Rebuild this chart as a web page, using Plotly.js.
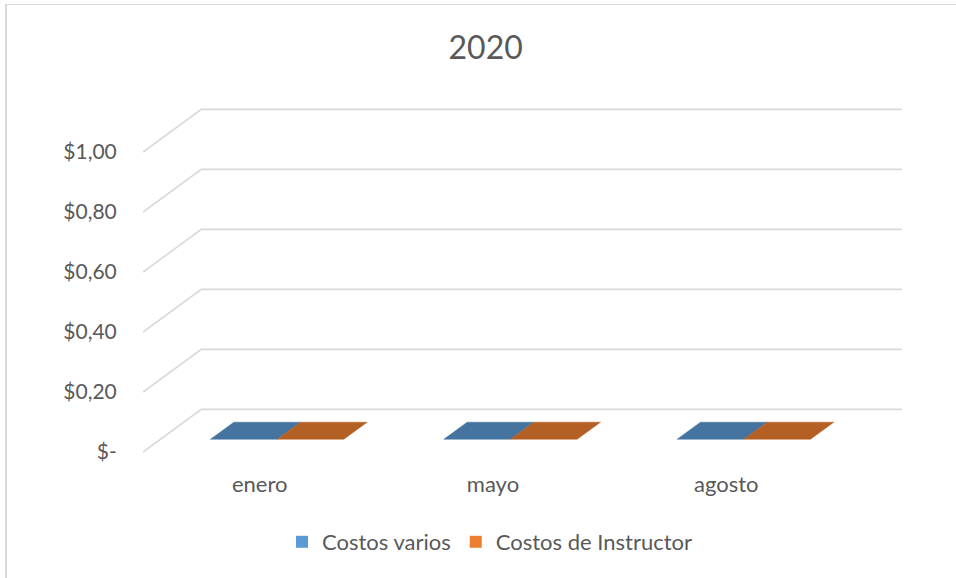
<!DOCTYPE html>
<html>
<head>
<meta charset="utf-8">
<script src="https://cdn.plot.ly/plotly-3.0.1.min.js"></script>
<style>
  html, body { margin: 0; padding: 0; background: #fff; }
  #wrap { position: relative; width: 956px; height: 578px; overflow: hidden; }
  #chart { position: absolute; left: 0; top: 0; width: 956px; height: 578px; }
  #frame { position: absolute; left: 5px; top: 4px; width: 960px; height: 590px;
           border-left: 2px solid #d9d9d9; border-top: 1px solid #d9d9d9; pointer-events: none; }
</style>
</head>
<body>
<div id="wrap">
  <div id="chart"></div>
  <div id="frame"></div>
</div>
<script>
// ---- data ----
const chartTitle = '2020';
const categories = ['enero', 'mayo', 'agosto'];
const seriesNames = ['Costos varios', 'Costos de Instructor'];
const costosVarios = [0, 0, 0];
const costosInstructor = [0, 0, 0];
const tickValues = [0, 0.2, 0.4, 0.6, 0.8, 1.0];
const tickLabels = ['$-', '$0,20', '$0,40', '$0,60', '$0,80', '$1,00'];

// ---- styling / pseudo-3D geometry ----
const DEPTH_X = 0.25;      // depth shift along x (category units)
const DEPTH_Y = 0.142;     // depth shift along y (value units)
const BAR_W = 1 / 3.5;     // gap width 150%
const DEPTH_FROM = 0.3, DEPTH_TO = 0.7;
const X_MAX = 2.753;
const legendColors = ['#5B9BD5', '#ED7D31'];
const topColors = ['#44749F', '#B45F23'];
const gridColor = '#d9d9d9';
const textColor = '#595959';
const FONT = 'Lato, "Open Sans", sans-serif';

const idx = categories.map((c, i) => i);

// gridlines: left side wall diagonal + back wall horizontal
const gx = [], gy = [];
tickValues.forEach(v => {
  gx.push(-0.5, -0.5 + DEPTH_X, X_MAX, null);
  gy.push(v, v + DEPTH_Y, v + DEPTH_Y, null);
});

const traces = [{
  type: 'scatter', mode: 'lines', x: gx, y: gy,
  line: { color: gridColor, width: 1.6 },
  hoverinfo: 'skip', showlegend: false
}];

const seriesValues = [costosVarios, costosInstructor];
const offsets = [-BAR_W, 0];

// real bar traces (values are zero, so no column height)
seriesValues.forEach((vals, s) => {
  traces.push({
    type: 'bar', name: seriesNames[s], x: idx, y: vals,
    width: BAR_W, offset: offsets[s],
    marker: { color: legendColors[s], line: { width: 0 } }
  });
});

// top faces of the 3D columns, placed at each value
seriesValues.forEach((vals, s) => {
  const px = [], py = [];
  vals.forEach((v, i) => {
    const xl = i + offsets[s], xr = xl + BAR_W;
    px.push(xl + DEPTH_FROM * DEPTH_X, xr + DEPTH_FROM * DEPTH_X,
            xr + DEPTH_TO * DEPTH_X, xl + DEPTH_TO * DEPTH_X, xl + DEPTH_FROM * DEPTH_X, null);
    py.push(v + DEPTH_FROM * DEPTH_Y, v + DEPTH_FROM * DEPTH_Y,
            v + DEPTH_TO * DEPTH_Y, v + DEPTH_TO * DEPTH_Y, v + DEPTH_FROM * DEPTH_Y, null);
  });
  traces.push({
    type: 'scatter', mode: 'lines', x: px, y: py, fill: 'toself',
    fillcolor: topColors[s], line: { color: topColors[s], width: 0.5 },
    hoverinfo: 'skip', showlegend: false
  });
});

const layout = {
  width: 956, height: 578,
  paper_bgcolor: '#ffffff', plot_bgcolor: 'rgba(0,0,0,0)',
  margin: { l: 143, r: 54, t: 100, b: 118, pad: 0 },
  font: { family: FONT, color: textColor, size: 22 },
  title: {
    text: chartTitle, font: { family: FONT, size: 32, color: textColor },
    xref: 'container', x: 0.508, xanchor: 'center',
    yref: 'container', y: 1 - 48 / 578, yanchor: 'middle'
  },
  barmode: 'overlay',
  xaxis: {
    range: [-0.5, X_MAX], tickmode: 'array', tickvals: idx, ticktext: categories,
    showgrid: false, zeroline: false, showline: false,
    ticks: 'outside', ticklen: 5, tickcolor: 'rgba(0,0,0,0)',
    tickfont: { family: FONT, size: 22, color: textColor }, fixedrange: true
  },
  yaxis: {
    range: [-8 / 300, 352 / 300], tickmode: 'array', tickvals: tickValues, ticktext: tickLabels,
    showgrid: false, zeroline: false, showline: false,
    ticks: 'outside', ticklen: 21, tickcolor: 'rgba(0,0,0,0)',
    tickfont: { family: FONT, size: 21, color: textColor }, fixedrange: true
  },
  showlegend: true,
  legend: {
    orientation: 'h', xref: 'container', yref: 'container',
    x: 490 / 956, xanchor: 'center', y: 1 - 542 / 578, yanchor: 'middle',
    font: { family: FONT, size: 22, color: textColor },
    itemwidth: 30, traceorder: 'normal'
  }
};

Plotly.newPlot('chart', traces, layout, { displayModeBar: false, staticPlot: true });
</script>
</body>
</html>
